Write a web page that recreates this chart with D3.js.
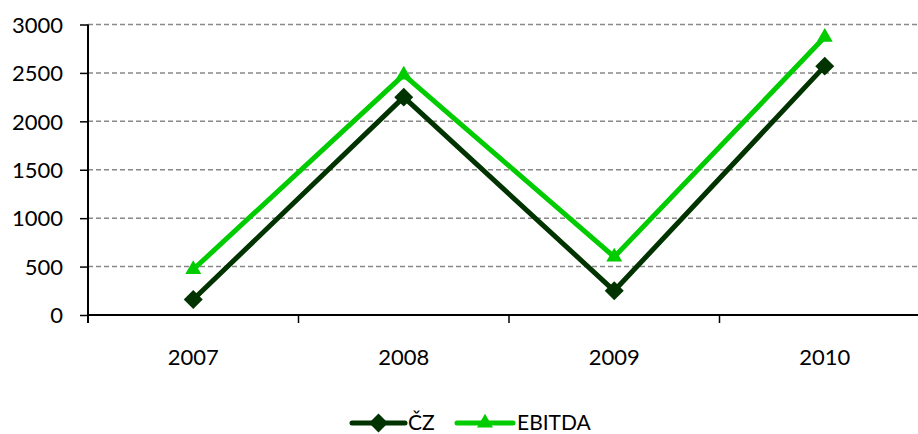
<!DOCTYPE html>
<html><head><meta charset="utf-8">
<script src="https://cdn.jsdelivr.net/npm/d3@7"></script>
<style>body{margin:0;background:#fff}svg{display:block}text{font-family:Lato,"Open Sans",sans-serif;fill:#000}</style>
</head><body><svg id="c" width="918" height="434"></svg>
<script>
const categories = ["2007","2008","2009","2010"];
const seriesNames = ["ČZ","EBITDA"];
const czValues = [160, 2250, 250, 2570];
const ebitdaValues = [470, 2480, 600, 2870];
const yTicks = [0,500,1000,1500,2000,2500,3000];

(function(){
const svg = d3.select("#c");
const pL = 88, pR = 930, pT = 24.5, pB = 315;
const x = d3.scaleBand().domain(categories).range([pL, pR]);
const y = d3.scaleLinear().domain([0,3000]).range([pB, pT]);

// gridlines
svg.append("g").selectAll("line").data(yTicks.filter(d=>d>0)).join("line")
  .attr("x1", pL).attr("x2", 918).attr("y1", d=>y(d)).attr("y2", d=>y(d))
  .attr("stroke","#888").attr("stroke-width",1.5).attr("stroke-dasharray","5,3");

// y axis
const ya = svg.append("g").attr("transform",`translate(${pL},0)`)
  .call(d3.axisLeft(y).tickValues(yTicks).tickSize(8).tickPadding(17).tickFormat(d3.format("d")));
ya.select(".domain").remove();
ya.selectAll("line").attr("stroke","#000").attr("stroke-width",1.5);
ya.selectAll("text").style("font-size","22px").attr("dy","0.35em");
svg.append("line").attr("x1",pL).attr("x2",pL).attr("y1",pT).attr("y2",pB+8)
  .attr("stroke","#000").attr("stroke-width",2);

// x axis
svg.append("line").attr("x1",pL).attr("x2",918).attr("y1",pB).attr("y2",pB)
  .attr("stroke","#000").attr("stroke-width",2);
const bounds = categories.map(c=>x(c)).concat([pR]);
svg.append("g").selectAll("line").data(bounds).join("line")
  .attr("x1",d=>d).attr("x2",d=>d).attr("y1",pB).attr("y2",pB+8)
  .attr("stroke","#000").attr("stroke-width",1.5);
svg.append("g").selectAll("text").data(categories).join("text")
  .attr("x",d=>x(d)+x.bandwidth()/2).attr("y",357).attr("dy","0.35em")
  .attr("text-anchor","middle").style("font-size","22px").text(d=>d);

const cx = d=>x(d)+x.bandwidth()/2;
const series = [
  {name: seriesNames[0], values: czValues, color:"#003300", marker:"diamond"},
  {name: seriesNames[1], values: ebitdaValues, color:"#00cc00", marker:"triangle"}
];
const diamond = d3.symbol().type(d3.symbolSquare).size(180)();
const tri = d3.symbol().type(d3.symbolTriangle).size(110)();
function marker(g, s, px, py){
  if(s.marker==="diamond"){
    g.append("path").attr("d",diamond).attr("transform",`translate(${px},${py}) rotate(45)`).attr("fill",s.color);
  } else {
    g.append("path").attr("d",tri).attr("transform",`translate(${px},${py})`).attr("fill",s.color);
  }
}
const line = d3.line().x((d,i)=>cx(categories[i])).y(d=>y(d));
series.slice().reverse().forEach(s=>{
  const g = svg.append("g");
  g.append("path").attr("d",line(s.values)).attr("fill","none").attr("stroke",s.color)
    .attr("stroke-width",5).attr("stroke-linejoin","round");
  s.values.forEach((v,i)=>marker(g,s,cx(categories[i]),y(v)));
});

// legend
const ly = 423;
const legendItems = [{s:series[0], x0:352, x1:405, tx:408},{s:series[1], x0:457, x1:513, tx:517}];
legendItems.forEach(l=>{
  const g = svg.append("g");
  g.append("line").attr("x1",l.x0).attr("x2",l.x1).attr("y1",ly).attr("y2",ly)
    .attr("stroke",l.s.color).attr("stroke-width",5).attr("stroke-linecap","round");
  marker(g,l.s,(l.x0+l.x1)/2,ly);
  g.append("text").attr("x",l.tx).attr("y",ly).attr("dy","0.35em").style("font-size","21px").text(l.s.name);
});
})();
</script></body></html>
